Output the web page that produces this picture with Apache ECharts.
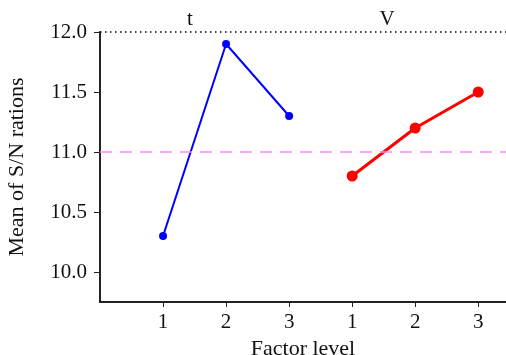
<!DOCTYPE html>
<html><head><meta charset="utf-8">
<script src="https://cdn.jsdelivr.net/npm/echarts@6/dist/echarts.min.js"></script>
<style>html,body{margin:0;padding:0;background:#fff}#c{width:506px;height:355px}</style>
</head><body><div id="c"></div>
<script>
var levelLabels = ['1','2','3','1','2','3'];
var levelPositions = [1,2,3,4,5,6];
var tValues = [10.3, 11.9, 11.3];
var vValues = [10.8, 11.2, 11.5];
var yTicks = [10.0, 10.5, 11.0, 11.5, 12.0];
var factorNames = ['t', 'V'];

var F = 'Liberation Serif, Times New Roman, serif';
var chart = echarts.init(document.getElementById('c'));
chart.setOption({
  animation:false,
  grid:{left:100, top:32, right:0, bottom:53, outerBoundsMode:'none', containLabel:false},
  xAxis:{type:'value', min:0, max:6.44,
    name:'Factor level', nameLocation:'middle', nameGap:31,
    nameTextStyle:{fontFamily:F, fontSize:22, color:'#111'},
    axisLine:{lineStyle:{color:'#222', width:2}},
    axisTick:{customValues:levelPositions, length:5, lineStyle:{color:'#222', width:1}},
    axisLabel:{customValues:levelPositions, fontFamily:F, fontSize:21, color:'#111', margin:10,
      formatter:function(v){return levelLabels[Math.round(v)-1];}},
    splitLine:{show:false}},
  yAxis:{type:'value', min:9.75, max:12,
    name:'Mean of S/N rations', nameLocation:'middle', nameGap:72,
    nameTextStyle:{fontFamily:F, fontSize:22, color:'#111'},
    axisLine:{show:true, lineStyle:{color:'#222', width:2}},
    axisTick:{show:true, customValues:yTicks, length:6, lineStyle:{color:'#222', width:1}},
    axisLabel:{customValues:yTicks, fontFamily:F, fontSize:21, color:'#111', margin:13,
      formatter:function(v){return v.toFixed(1);}},
    splitLine:{show:false}},
  graphic:[
    {type:'text', x:190, y:9, style:{text:factorNames[0], font:'21px '+F, fill:'#111', textAlign:'center'}},
    {type:'text', x:387, y:9, style:{text:factorNames[1], font:'21px '+F, fill:'#111', textAlign:'center'}}
  ],
  series:[
    {type:'line', data:levelPositions.slice(0,3).map(function(x,i){return [x,tValues[i]];}),
      color:'#0000ff', lineStyle:{width:2}, symbol:'circle', symbolSize:8,
      markLine:{silent:true, symbol:'none', label:{show:false},
        data:[
          {yAxis:12, lineStyle:{color:'#000', type:[1.5,3.5], width:1.5}},
          {yAxis:11, lineStyle:{color:'#ff88ff', type:[12,8], width:1.5}}
        ]}},
    {type:'line', data:levelPositions.slice(3,6).map(function(x,i){return [x,vValues[i]];}),
      color:'#ff0000', lineStyle:{width:3}, symbol:'circle', symbolSize:11}
  ]
});
</script></body></html>
